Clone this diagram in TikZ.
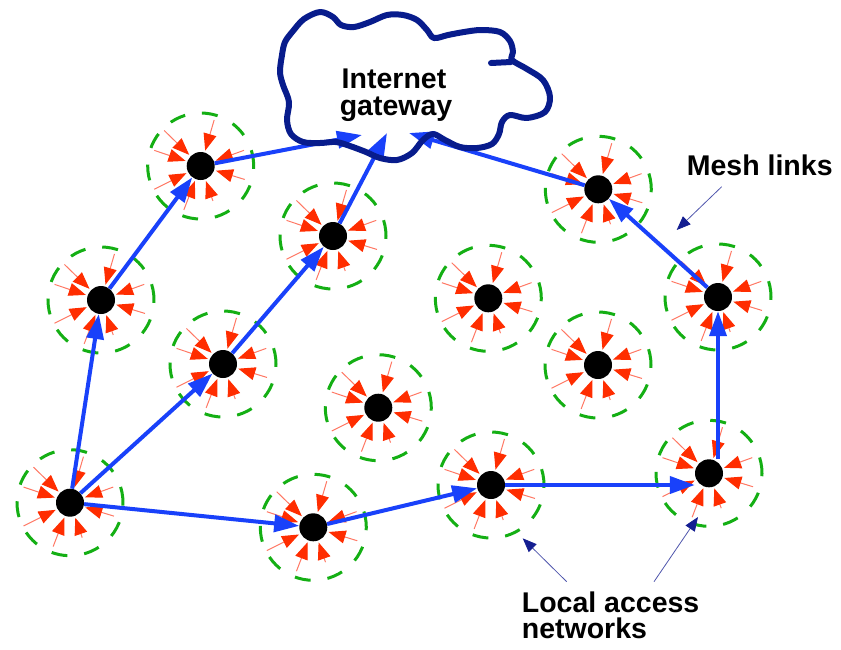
\documentclass[tikz,border=0pt]{standalone}
\usepackage{fontspec}
\setmainfont{Liberation Sans}
\usetikzlibrary{arrows.meta}
\definecolor{linkblue}{RGB}{25,65,250}
\definecolor{cloudnavy}{RGB}{8,28,140}
\definecolor{ringgreen}{RGB}{20,175,20}
\definecolor{feedred}{RGB}{255,45,0}
\definecolor{feedshaft}{RGB}{255,120,100}
\definecolor{pointernavy}{RGB}{20,30,145}
\begin{document}
\begin{tikzpicture}[x=1pt,y=-1pt,
  ring/.style={ringgreen, line width=3pt, dash pattern=on 16pt off 17pt},
  feed/.style={feedshaft, line width=1pt, -{Triangle[length=17pt,width=13pt,color=feedred]}},
  dot/.style={circle, fill=black, inner sep=0pt, minimum size=28pt},
  link/.style={linkblue, line width=4pt, -{Triangle[length=25pt,width=17pt]}},
  pointer/.style={pointernavy!75, line width=0.8pt, -{Triangle[length=14pt,width=11pt,color=pointernavy]}},
  cloudline/.style={cloudnavy, line width=6pt, line join=round, line cap=round},
  lab/.style={font=\fontsize{28.5}{28}\selectfont\bfseries, inner sep=0pt}]
\useasboundingbox (0,0) rectangle (841,649);

% access points: dashed coverage ring, client arrows, mesh router dot
\foreach \n/\x/\y in {A/200.7/166, B/101/300, C/333/236, D/223/364, E/70/502.7,
    F/313.3/527.3, G/378.3/407.7, H/488.3/298.3, I/491/485, J/598.3/189.3,
    K/598/365, L/718/297, M/709/473.3}{
  \begin{scope}[shift={(\x,\y)}]
    \draw[ring] (0,0) circle[radius=53pt];
    \foreach \ang/\rad in {73.7/48, 135.8/51, 161.4/49, 206.6/52, 249/47,
        289.3/37, 343/46, 19.9/46}
      \draw[feed] (\ang:\rad pt) -- (\ang:16pt);
  \end{scope}
  \node[dot] (\n) at (\x,\y) {};
}

% entry points on the gateway cloud
\coordinate (gA) at (362,135);
\coordinate (gC) at (387,133);
\coordinate (gJ) at (409,133);

% mesh links
\draw[link] (E) -- (B);
\draw[link] (B) -- (A);
\draw[link] (A) -- (gA);
\draw[link] (E) -- (D);
\draw[link] (D) -- (C);
\draw[link] (C) -- (gC);
\draw[link] (E) -- (F);
\draw[link] (F) -- (I);
\draw[link] (I.east) -- (I.east -| M.west);
\draw[link] (M.north -| L.south) -- (L.south);
\draw[link] (L) -- (J);
\draw[link] (J) -- (gJ);

% internet gateway cloud
\draw[cloudline] plot[smooth cycle, tension=0.55] coordinates {
  (512,60) (527,69) (543,80) (550,97) (545,112) (527,118) (510,115) (502,122)
  (499,134) (492,144) (477,148) (460,147) (445,140) (433,134) (423,140)
  (412,153) (397,160) (380,158) (366,152) (350,146) (336,142) (320,143)
  (303,142) (291,134) (287,120) (289,102) (283,85) (280,72) (282,55) (285,42)
  (293,31) (304,19) (320,12) (333,17) (341,25) (354,27) (370,22) (387,15)
  (403,15) (417,20) (427,30) (434,38) (448,35) (464,32) (481,30) (500,32)
  (510,41) (513,52)};
\draw[cloudline] (491,63) -- (511,62);

% labels
\node[lab, anchor=base] (gw1) at (394,88) {Internet};
\node[lab, anchor=base] (gw2) at (396,115) {gateway};
\node[lab, anchor=base west] (mesh) at (686.7,175) {Mesh links};
\node[lab, anchor=base west] (loc1) at (521.7,612) {Local access};
\node[lab, anchor=base west] (loc2) at (521.7,638.5) {networks};

% label pointers
\coordinate (meshTail) at (721.7,186.7);
\coordinate (meshTip) at (676.7,230);
\coordinate (locTailA) at (566.7,581.7);
\coordinate (locTipA) at (522.7,538.3);
\coordinate (locTailB) at (654,581.7);
\coordinate (locTipB) at (698,517);
\draw[pointer] (meshTail) -- (meshTip);
\draw[pointer] (locTailA) -- (locTipA);
\draw[pointer] (locTailB) -- (locTipB);
\end{tikzpicture}
\end{document}
